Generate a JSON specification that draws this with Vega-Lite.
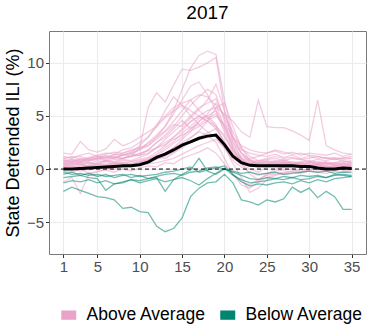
{
"$schema": "https://vega.github.io/schema/vega-lite/v6.json",
"autosize": "none",
"width": 317,
"height": 223,
"padding": {"left": 49, "top": 31, "right": 8, "bottom": 82},
"config": {"font": "Liberation Sans", "view": {"stroke": "#7a7a7a", "strokeWidth": 1}},
"title": {"text": "2017", "fontSize": 19, "fontWeight": "normal", "color": "#000000", "offset": 8, "anchor": "middle"},
"datasets": {
"above": [
{"s":1,"w":1,"v":0.8},{"s":1,"w":2,"v":0.6},{"s":1,"w":3,"v":0.9},{"s":1,"w":4,"v":0.7},{"s":1,"w":5,"v":1.0},{"s":1,"w":6,"v":1.2},{"s":1,"w":7,"v":1.0},{"s":1,"w":8,"v":1.3},{"s":1,"w":9,"v":1.5},{"s":1,"w":10,"v":1.8},{"s":1,"w":11,"v":2.5},{"s":1,"w":12,"v":3.2},{"s":1,"w":13,"v":4.0},{"s":1,"w":14,"v":5.5},{"s":1,"w":15,"v":7.5},{"s":1,"w":16,"v":9.5},{"s":1,"w":17,"v":10.7},{"s":1,"w":18,"v":11.1},{"s":1,"w":19,"v":10.8},{"s":1,"w":20,"v":6.5},{"s":1,"w":21,"v":3.0},{"s":1,"w":22,"v":1.5},{"s":1,"w":23,"v":0.8},{"s":1,"w":24,"v":0.5},{"s":1,"w":25,"v":0.7},{"s":1,"w":26,"v":0.6},{"s":1,"w":27,"v":0.8},{"s":1,"w":28,"v":0.5},{"s":1,"w":29,"v":0.6},{"s":1,"w":30,"v":0.7},{"s":1,"w":31,"v":0.5},{"s":1,"w":32,"v":0.6},{"s":1,"w":33,"v":0.4},{"s":1,"w":34,"v":0.5},{"s":1,"w":35,"v":0.6},
{"s":2,"w":1,"v":0.3},{"s":2,"w":2,"v":0.5},{"s":2,"w":3,"v":0.4},{"s":2,"w":4,"v":0.6},{"s":2,"w":5,"v":0.5},{"s":2,"w":6,"v":0.8},{"s":2,"w":7,"v":0.7},{"s":2,"w":8,"v":1.0},{"s":2,"w":9,"v":1.2},{"s":2,"w":10,"v":2.0},{"s":2,"w":11,"v":5.8},{"s":2,"w":12,"v":7.2},{"s":2,"w":13,"v":6.3},{"s":2,"w":14,"v":7.9},{"s":2,"w":15,"v":9.4},{"s":2,"w":16,"v":9.3},{"s":2,"w":17,"v":9.6},{"s":2,"w":18,"v":10.0},{"s":2,"w":19,"v":10.5},{"s":2,"w":20,"v":5.5},{"s":2,"w":21,"v":2.5},{"s":2,"w":22,"v":1.0},{"s":2,"w":23,"v":0.3},{"s":2,"w":24,"v":0.2},{"s":2,"w":25,"v":0.4},{"s":2,"w":26,"v":0.5},{"s":2,"w":27,"v":0.3},{"s":2,"w":28,"v":0.4},{"s":2,"w":29,"v":0.5},{"s":2,"w":30,"v":0.3},{"s":2,"w":31,"v":0.4},{"s":2,"w":32,"v":0.5},{"s":2,"w":33,"v":0.3},{"s":2,"w":34,"v":0.4},{"s":2,"w":35,"v":0.5},
{"s":3,"w":1,"v":0.5},{"s":3,"w":2,"v":0.4},{"s":3,"w":3,"v":0.6},{"s":3,"w":4,"v":0.5},{"s":3,"w":5,"v":0.8},{"s":3,"w":6,"v":0.7},{"s":3,"w":7,"v":0.9},{"s":3,"w":8,"v":1.0},{"s":3,"w":9,"v":1.2},{"s":3,"w":10,"v":1.4},{"s":3,"w":11,"v":1.8},{"s":3,"w":12,"v":2.5},{"s":3,"w":13,"v":3.2},{"s":3,"w":14,"v":4.0},{"s":3,"w":15,"v":5.0},{"s":3,"w":16,"v":6.0},{"s":3,"w":17,"v":6.8},{"s":3,"w":18,"v":7.5},{"s":3,"w":19,"v":7.0},{"s":3,"w":20,"v":4.5},{"s":3,"w":21,"v":2.0},{"s":3,"w":22,"v":1.0},{"s":3,"w":23,"v":0.6},{"s":3,"w":24,"v":0.5},{"s":3,"w":25,"v":0.4},{"s":3,"w":26,"v":0.6},{"s":3,"w":27,"v":0.5},{"s":3,"w":28,"v":0.4},{"s":3,"w":29,"v":0.3},{"s":3,"w":30,"v":0.5},{"s":3,"w":31,"v":0.4},{"s":3,"w":32,"v":0.3},{"s":3,"w":33,"v":0.5},{"s":3,"w":34,"v":0.4},{"s":3,"w":35,"v":0.3},
{"s":4,"w":1,"v":1.0},{"s":4,"w":2,"v":1.2},{"s":4,"w":3,"v":0.9},{"s":4,"w":4,"v":1.1},{"s":4,"w":5,"v":1.3},{"s":4,"w":6,"v":1.5},{"s":4,"w":7,"v":1.4},{"s":4,"w":8,"v":1.8},{"s":4,"w":9,"v":2.0},{"s":4,"w":10,"v":2.5},{"s":4,"w":11,"v":3.0},{"s":4,"w":12,"v":4.2},{"s":4,"w":13,"v":5.0},{"s":4,"w":14,"v":5.8},{"s":4,"w":15,"v":6.2},{"s":4,"w":16,"v":6.5},{"s":4,"w":17,"v":5.5},{"s":4,"w":18,"v":4.8},{"s":4,"w":19,"v":4.0},{"s":4,"w":20,"v":3.0},{"s":4,"w":21,"v":1.8},{"s":4,"w":22,"v":1.0},{"s":4,"w":23,"v":0.8},{"s":4,"w":24,"v":0.6},{"s":4,"w":25,"v":0.8},{"s":4,"w":26,"v":0.7},{"s":4,"w":27,"v":0.9},{"s":4,"w":28,"v":0.6},{"s":4,"w":29,"v":0.7},{"s":4,"w":30,"v":0.8},{"s":4,"w":31,"v":0.6},{"s":4,"w":32,"v":0.7},{"s":4,"w":33,"v":0.5},{"s":4,"w":34,"v":0.6},{"s":4,"w":35,"v":0.7},
{"s":5,"w":1,"v":0.2},{"s":5,"w":2,"v":0.3},{"s":5,"w":3,"v":0.1},{"s":5,"w":4,"v":0.4},{"s":5,"w":5,"v":0.3},{"s":5,"w":6,"v":0.5},{"s":5,"w":7,"v":0.4},{"s":5,"w":8,"v":0.6},{"s":5,"w":9,"v":0.5},{"s":5,"w":10,"v":0.7},{"s":5,"w":11,"v":0.9},{"s":5,"w":12,"v":1.2},{"s":5,"w":13,"v":1.5},{"s":5,"w":14,"v":2.0},{"s":5,"w":15,"v":2.8},{"s":5,"w":16,"v":3.5},{"s":5,"w":17,"v":4.5},{"s":5,"w":18,"v":5.2},{"s":5,"w":19,"v":6.2},{"s":5,"w":20,"v":5.0},{"s":5,"w":21,"v":3.5},{"s":5,"w":22,"v":2.0},{"s":5,"w":23,"v":1.2},{"s":5,"w":24,"v":0.8},{"s":5,"w":25,"v":0.7},{"s":5,"w":26,"v":0.5},{"s":5,"w":27,"v":0.6},{"s":5,"w":28,"v":0.4},{"s":5,"w":29,"v":0.5},{"s":5,"w":30,"v":0.3},{"s":5,"w":31,"v":0.4},{"s":5,"w":32,"v":0.2},{"s":5,"w":33,"v":0.3},{"s":5,"w":34,"v":0.2},{"s":5,"w":35,"v":0.3},
{"s":6,"w":1,"v":0.6},{"s":6,"w":2,"v":0.8},{"s":6,"w":3,"v":0.7},{"s":6,"w":4,"v":0.9},{"s":6,"w":5,"v":1.0},{"s":6,"w":6,"v":0.8},{"s":6,"w":7,"v":1.1},{"s":6,"w":8,"v":1.0},{"s":6,"w":9,"v":1.2},{"s":6,"w":10,"v":1.3},{"s":6,"w":11,"v":1.5},{"s":6,"w":12,"v":2.0},{"s":6,"w":13,"v":2.5},{"s":6,"w":14,"v":3.0},{"s":6,"w":15,"v":3.8},{"s":6,"w":16,"v":4.5},{"s":6,"w":17,"v":5.0},{"s":6,"w":18,"v":5.5},{"s":6,"w":19,"v":5.8},{"s":6,"w":20,"v":5.2},{"s":6,"w":21,"v":4.5},{"s":6,"w":22,"v":3.5},{"s":6,"w":23,"v":3.0},{"s":6,"w":24,"v":6.5},{"s":6,"w":25,"v":4.0},{"s":6,"w":26,"v":3.9},{"s":6,"w":27,"v":3.9},{"s":6,"w":28,"v":3.6},{"s":6,"w":29,"v":3.2},{"s":6,"w":30,"v":2.7},{"s":6,"w":31,"v":6.5},{"s":6,"w":32,"v":2.2},{"s":6,"w":33,"v":1.8},{"s":6,"w":34,"v":1.5},{"s":6,"w":35,"v":1.4},
{"s":7,"w":1,"v":1.5},{"s":7,"w":2,"v":1.4},{"s":7,"w":3,"v":2.6},{"s":7,"w":4,"v":1.8},{"s":7,"w":5,"v":1.6},{"s":7,"w":6,"v":1.9},{"s":7,"w":7,"v":2.8},{"s":7,"w":8,"v":2.2},{"s":7,"w":9,"v":2.5},{"s":7,"w":10,"v":3.0},{"s":7,"w":11,"v":3.5},{"s":7,"w":12,"v":4.0},{"s":7,"w":13,"v":4.8},{"s":7,"w":14,"v":5.5},{"s":7,"w":15,"v":6.0},{"s":7,"w":16,"v":5.5},{"s":7,"w":17,"v":5.0},{"s":7,"w":18,"v":4.5},{"s":7,"w":19,"v":3.8},{"s":7,"w":20,"v":2.5},{"s":7,"w":21,"v":1.5},{"s":7,"w":22,"v":0.8},{"s":7,"w":23,"v":0.5},{"s":7,"w":24,"v":0.8},{"s":7,"w":25,"v":1.0},{"s":7,"w":26,"v":1.2},{"s":7,"w":27,"v":1.0},{"s":7,"w":28,"v":1.1},{"s":7,"w":29,"v":0.9},{"s":7,"w":30,"v":1.0},{"s":7,"w":31,"v":1.2},{"s":7,"w":32,"v":1.0},{"s":7,"w":33,"v":0.9},{"s":7,"w":34,"v":1.1},{"s":7,"w":35,"v":1.0},
{"s":8,"w":1,"v":-1.2},{"s":8,"w":2,"v":-0.8},{"s":8,"w":3,"v":-2.3},{"s":8,"w":4,"v":-0.5},{"s":8,"w":5,"v":-0.3},{"s":8,"w":6,"v":0.0},{"s":8,"w":7,"v":0.2},{"s":8,"w":8,"v":0.1},{"s":8,"w":9,"v":0.3},{"s":8,"w":10,"v":0.5},{"s":8,"w":11,"v":0.8},{"s":8,"w":12,"v":1.0},{"s":8,"w":13,"v":1.5},{"s":8,"w":14,"v":2.0},{"s":8,"w":15,"v":2.5},{"s":8,"w":16,"v":3.0},{"s":8,"w":17,"v":3.5},{"s":8,"w":18,"v":3.2},{"s":8,"w":19,"v":2.5},{"s":8,"w":20,"v":1.0},{"s":8,"w":21,"v":-0.5},{"s":8,"w":22,"v":-1.5},{"s":8,"w":23,"v":-1.8},{"s":8,"w":24,"v":-1.2},{"s":8,"w":25,"v":-0.8},{"s":8,"w":26,"v":-0.5},{"s":8,"w":27,"v":-0.3},{"s":8,"w":28,"v":-0.2},{"s":8,"w":29,"v":0.0},{"s":8,"w":30,"v":-0.1},{"s":8,"w":31,"v":0.1},{"s":8,"w":32,"v":0.0},{"s":8,"w":33,"v":-0.2},{"s":8,"w":34,"v":0.1},{"s":8,"w":35,"v":0.0},
{"s":9,"w":1,"v":0.1},{"s":9,"w":2,"v":0.0},{"s":9,"w":3,"v":0.2},{"s":9,"w":4,"v":-0.1},{"s":9,"w":5,"v":0.1},{"s":9,"w":6,"v":0.3},{"s":9,"w":7,"v":0.2},{"s":9,"w":8,"v":0.4},{"s":9,"w":9,"v":0.3},{"s":9,"w":10,"v":0.6},{"s":9,"w":11,"v":0.9},{"s":9,"w":12,"v":1.4},{"s":9,"w":13,"v":2.0},{"s":9,"w":14,"v":2.6},{"s":9,"w":15,"v":3.4},{"s":9,"w":16,"v":4.0},{"s":9,"w":17,"v":4.8},{"s":9,"w":18,"v":5.0},{"s":9,"w":19,"v":4.2},{"s":9,"w":20,"v":2.2},{"s":9,"w":21,"v":0.5},{"s":9,"w":22,"v":-0.8},{"s":9,"w":23,"v":-2.2},{"s":9,"w":24,"v":-1.8},{"s":9,"w":25,"v":-1.0},{"s":9,"w":26,"v":-0.6},{"s":9,"w":27,"v":-0.4},{"s":9,"w":28,"v":-0.2},{"s":9,"w":29,"v":-0.3},{"s":9,"w":30,"v":-0.1},{"s":9,"w":31,"v":0.0},{"s":9,"w":32,"v":-0.2},{"s":9,"w":33,"v":0.1},{"s":9,"w":34,"v":-0.1},{"s":9,"w":35,"v":0.0},
{"s":10,"w":1,"v":0.8},{"s":10,"w":2,"v":0.9},{"s":10,"w":3,"v":0.7},{"s":10,"w":4,"v":1.0},{"s":10,"w":5,"v":1.2},{"s":10,"w":6,"v":1.1},{"s":10,"w":7,"v":1.3},{"s":10,"w":8,"v":1.5},{"s":10,"w":9,"v":1.7},{"s":10,"w":10,"v":2.0},{"s":10,"w":11,"v":2.4},{"s":10,"w":12,"v":3.0},{"s":10,"w":13,"v":3.6},{"s":10,"w":14,"v":4.5},{"s":10,"w":15,"v":5.5},{"s":10,"w":16,"v":6.5},{"s":10,"w":17,"v":7.0},{"s":10,"w":18,"v":6.8},{"s":10,"w":19,"v":6.0},{"s":10,"w":20,"v":4.0},{"s":10,"w":21,"v":2.5},{"s":10,"w":22,"v":1.5},{"s":10,"w":23,"v":1.0},{"s":10,"w":24,"v":1.2},{"s":10,"w":25,"v":1.5},{"s":10,"w":26,"v":1.8},{"s":10,"w":27,"v":1.6},{"s":10,"w":28,"v":1.4},{"s":10,"w":29,"v":1.5},{"s":10,"w":30,"v":1.3},{"s":10,"w":31,"v":1.2},{"s":10,"w":32,"v":1.0},{"s":10,"w":33,"v":1.1},{"s":10,"w":34,"v":0.9},{"s":10,"w":35,"v":1.0},
{"s":11,"w":1,"v":0.3},{"s":11,"w":2,"v":0.2},{"s":11,"w":3,"v":0.4},{"s":11,"w":4,"v":0.3},{"s":11,"w":5,"v":0.5},{"s":11,"w":6,"v":0.4},{"s":11,"w":7,"v":0.6},{"s":11,"w":8,"v":0.5},{"s":11,"w":9,"v":0.7},{"s":11,"w":10,"v":0.8},{"s":11,"w":11,"v":1.0},{"s":11,"w":12,"v":1.3},{"s":11,"w":13,"v":1.8},{"s":11,"w":14,"v":2.4},{"s":11,"w":15,"v":3.0},{"s":11,"w":16,"v":3.8},{"s":11,"w":17,"v":4.5},{"s":11,"w":18,"v":5.0},{"s":11,"w":19,"v":5.5},{"s":11,"w":20,"v":4.0},{"s":11,"w":21,"v":2.0},{"s":11,"w":22,"v":0.5},{"s":11,"w":23,"v":-0.5},{"s":11,"w":24,"v":-1.0},{"s":11,"w":25,"v":-0.5},{"s":11,"w":26,"v":0.0},{"s":11,"w":27,"v":0.2},{"s":11,"w":28,"v":0.1},{"s":11,"w":29,"v":0.3},{"s":11,"w":30,"v":0.2},{"s":11,"w":31,"v":0.1},{"s":11,"w":32,"v":0.2},{"s":11,"w":33,"v":0.0},{"s":11,"w":34,"v":0.1},{"s":11,"w":35,"v":0.2},
{"s":12,"w":1,"v":0.5},{"s":12,"w":2,"v":0.7},{"s":12,"w":3,"v":0.6},{"s":12,"w":4,"v":0.8},{"s":12,"w":5,"v":0.9},{"s":12,"w":6,"v":1.1},{"s":12,"w":7,"v":1.0},{"s":12,"w":8,"v":1.3},{"s":12,"w":9,"v":1.6},{"s":12,"w":10,"v":2.2},{"s":12,"w":11,"v":3.0},{"s":12,"w":12,"v":4.0},{"s":12,"w":13,"v":5.5},{"s":12,"w":14,"v":6.8},{"s":12,"w":15,"v":6.0},{"s":12,"w":16,"v":5.0},{"s":12,"w":17,"v":4.2},{"s":12,"w":18,"v":3.5},{"s":12,"w":19,"v":3.0},{"s":12,"w":20,"v":2.0},{"s":12,"w":21,"v":1.0},{"s":12,"w":22,"v":0.5},{"s":12,"w":23,"v":0.3},{"s":12,"w":24,"v":0.2},{"s":12,"w":25,"v":0.4},{"s":12,"w":26,"v":0.3},{"s":12,"w":27,"v":0.5},{"s":12,"w":28,"v":0.4},{"s":12,"w":29,"v":0.2},{"s":12,"w":30,"v":0.3},{"s":12,"w":31,"v":0.4},{"s":12,"w":32,"v":0.2},{"s":12,"w":33,"v":0.3},{"s":12,"w":34,"v":0.1},{"s":12,"w":35,"v":0.2},
{"s":13,"w":1,"v":0.0},{"s":13,"w":2,"v":0.1},{"s":13,"w":3,"v":-0.2},{"s":13,"w":4,"v":0.0},{"s":13,"w":5,"v":0.2},{"s":13,"w":6,"v":0.1},{"s":13,"w":7,"v":0.0},{"s":13,"w":8,"v":0.3},{"s":13,"w":9,"v":0.2},{"s":13,"w":10,"v":0.4},{"s":13,"w":11,"v":0.5},{"s":13,"w":12,"v":0.6},{"s":13,"w":13,"v":0.8},{"s":13,"w":14,"v":1.0},{"s":13,"w":15,"v":1.4},{"s":13,"w":16,"v":1.8},{"s":13,"w":17,"v":2.2},{"s":13,"w":18,"v":2.5},{"s":13,"w":19,"v":2.8},{"s":13,"w":20,"v":2.0},{"s":13,"w":21,"v":0.8},{"s":13,"w":22,"v":0.2},{"s":13,"w":23,"v":-0.3},{"s":13,"w":24,"v":-0.6},{"s":13,"w":25,"v":-0.4},{"s":13,"w":26,"v":-0.2},{"s":13,"w":27,"v":-0.1},{"s":13,"w":28,"v":0.0},{"s":13,"w":29,"v":-0.2},{"s":13,"w":30,"v":0.0},{"s":13,"w":31,"v":-0.1},{"s":13,"w":32,"v":0.0},{"s":13,"w":33,"v":0.1},{"s":13,"w":34,"v":-0.1},{"s":13,"w":35,"v":0.0},
{"s":14,"w":1,"v":1.2},{"s":14,"w":2,"v":1.0},{"s":14,"w":3,"v":1.3},{"s":14,"w":4,"v":1.5},{"s":14,"w":5,"v":1.2},{"s":14,"w":6,"v":1.4},{"s":14,"w":7,"v":1.6},{"s":14,"w":8,"v":1.5},{"s":14,"w":9,"v":1.8},{"s":14,"w":10,"v":2.0},{"s":14,"w":11,"v":2.2},{"s":14,"w":12,"v":2.8},{"s":14,"w":13,"v":3.5},{"s":14,"w":14,"v":4.2},{"s":14,"w":15,"v":4.0},{"s":14,"w":16,"v":4.8},{"s":14,"w":17,"v":5.6},{"s":14,"w":18,"v":6.5},{"s":14,"w":19,"v":8.0},{"s":14,"w":20,"v":5.5},{"s":14,"w":21,"v":3.0},{"s":14,"w":22,"v":1.8},{"s":14,"w":23,"v":1.5},{"s":14,"w":24,"v":1.3},{"s":14,"w":25,"v":1.2},{"s":14,"w":26,"v":1.4},{"s":14,"w":27,"v":1.1},{"s":14,"w":28,"v":1.3},{"s":14,"w":29,"v":1.0},{"s":14,"w":30,"v":1.2},{"s":14,"w":31,"v":1.0},{"s":14,"w":32,"v":1.1},{"s":14,"w":33,"v":0.9},{"s":14,"w":34,"v":1.0},{"s":14,"w":35,"v":1.2},
{"s":15,"w":1,"v":0.4},{"s":15,"w":2,"v":0.6},{"s":15,"w":3,"v":0.5},{"s":15,"w":4,"v":0.3},{"s":15,"w":5,"v":0.6},{"s":15,"w":6,"v":0.8},{"s":15,"w":7,"v":0.6},{"s":15,"w":8,"v":0.9},{"s":15,"w":9,"v":0.8},{"s":15,"w":10,"v":1.1},{"s":15,"w":11,"v":1.4},{"s":15,"w":12,"v":2.0},{"s":15,"w":13,"v":2.8},{"s":15,"w":14,"v":3.5},{"s":15,"w":15,"v":4.2},{"s":15,"w":16,"v":5.0},{"s":15,"w":17,"v":5.8},{"s":15,"w":18,"v":6.2},{"s":15,"w":19,"v":6.6},{"s":15,"w":20,"v":4.8},{"s":15,"w":21,"v":2.8},{"s":15,"w":22,"v":1.5},{"s":15,"w":23,"v":0.6},{"s":15,"w":24,"v":0.3},{"s":15,"w":25,"v":0.5},{"s":15,"w":26,"v":0.4},{"s":15,"w":27,"v":0.6},{"s":15,"w":28,"v":0.5},{"s":15,"w":29,"v":0.4},{"s":15,"w":30,"v":0.6},{"s":15,"w":31,"v":0.5},{"s":15,"w":32,"v":0.4},{"s":15,"w":33,"v":0.6},{"s":15,"w":34,"v":0.5},{"s":15,"w":35,"v":0.4},
{"s":16,"w":1,"v":0.2},{"s":16,"w":2,"v":0.0},{"s":16,"w":3,"v":0.3},{"s":16,"w":4,"v":0.2},{"s":16,"w":5,"v":0.1},{"s":16,"w":6,"v":0.3},{"s":16,"w":7,"v":0.4},{"s":16,"w":8,"v":0.2},{"s":16,"w":9,"v":0.5},{"s":16,"w":10,"v":0.6},{"s":16,"w":11,"v":0.7},{"s":16,"w":12,"v":0.9},{"s":16,"w":13,"v":1.2},{"s":16,"w":14,"v":1.6},{"s":16,"w":15,"v":2.2},{"s":16,"w":16,"v":2.9},{"s":16,"w":17,"v":3.6},{"s":16,"w":18,"v":4.5},{"s":16,"w":19,"v":5.8},{"s":16,"w":20,"v":6.2},{"s":16,"w":21,"v":4.0},{"s":16,"w":22,"v":2.0},{"s":16,"w":23,"v":0.8},{"s":16,"w":24,"v":0.4},{"s":16,"w":25,"v":0.3},{"s":16,"w":26,"v":0.5},{"s":16,"w":27,"v":0.2},{"s":16,"w":28,"v":0.4},{"s":16,"w":29,"v":0.3},{"s":16,"w":30,"v":0.1},{"s":16,"w":31,"v":0.2},{"s":16,"w":32,"v":0.3},{"s":16,"w":33,"v":0.1},{"s":16,"w":34,"v":0.2},{"s":16,"w":35,"v":0.3},
{"s":17,"w":1,"v":0.9},{"s":17,"w":2,"v":0.7},{"s":17,"w":3,"v":1.0},{"s":17,"w":4,"v":0.8},{"s":17,"w":5,"v":1.1},{"s":17,"w":6,"v":0.9},{"s":17,"w":7,"v":1.2},{"s":17,"w":8,"v":1.0},{"s":17,"w":9,"v":1.4},{"s":17,"w":10,"v":1.3},{"s":17,"w":11,"v":1.8},{"s":17,"w":12,"v":2.5},{"s":17,"w":13,"v":3.0},{"s":17,"w":14,"v":3.8},{"s":17,"w":15,"v":4.6},{"s":17,"w":16,"v":3.8},{"s":17,"w":17,"v":4.2},{"s":17,"w":18,"v":4.8},{"s":17,"w":19,"v":5.2},{"s":17,"w":20,"v":3.8},{"s":17,"w":21,"v":2.2},{"s":17,"w":22,"v":1.2},{"s":17,"w":23,"v":0.9},{"s":17,"w":24,"v":0.7},{"s":17,"w":25,"v":0.9},{"s":17,"w":26,"v":1.0},{"s":17,"w":27,"v":0.8},{"s":17,"w":28,"v":1.0},{"s":17,"w":29,"v":0.9},{"s":17,"w":30,"v":0.7},{"s":17,"w":31,"v":0.9},{"s":17,"w":32,"v":0.8},{"s":17,"w":33,"v":1.0},{"s":17,"w":34,"v":0.7},{"s":17,"w":35,"v":0.8},
{"s":18,"w":1,"v":0.6},{"s":18,"w":2,"v":0.5},{"s":18,"w":3,"v":0.7},{"s":18,"w":4,"v":0.6},{"s":18,"w":5,"v":0.4},{"s":18,"w":6,"v":0.7},{"s":18,"w":7,"v":0.5},{"s":18,"w":8,"v":0.8},{"s":18,"w":9,"v":0.7},{"s":18,"w":10,"v":0.9},{"s":18,"w":11,"v":1.1},{"s":18,"w":12,"v":1.6},{"s":18,"w":13,"v":2.2},{"s":18,"w":14,"v":3.0},{"s":18,"w":15,"v":3.6},{"s":18,"w":16,"v":4.4},{"s":18,"w":17,"v":5.0},{"s":18,"w":18,"v":4.5},{"s":18,"w":19,"v":4.0},{"s":18,"w":20,"v":3.2},{"s":18,"w":21,"v":1.6},{"s":18,"w":22,"v":0.9},{"s":18,"w":23,"v":0.4},{"s":18,"w":24,"v":0.5},{"s":18,"w":25,"v":0.6},{"s":18,"w":26,"v":0.4},{"s":18,"w":27,"v":0.7},{"s":18,"w":28,"v":0.5},{"s":18,"w":29,"v":0.6},{"s":18,"w":30,"v":0.4},{"s":18,"w":31,"v":0.5},{"s":18,"w":32,"v":0.6},{"s":18,"w":33,"v":0.4},{"s":18,"w":34,"v":0.3},{"s":18,"w":35,"v":0.5},
{"s":19,"w":1,"v":-0.2},{"s":19,"w":2,"v":-0.3},{"s":19,"w":3,"v":0.0},{"s":19,"w":4,"v":-0.4},{"s":19,"w":5,"v":-0.2},{"s":19,"w":6,"v":-0.1},{"s":19,"w":7,"v":-0.3},{"s":19,"w":8,"v":0.0},{"s":19,"w":9,"v":-0.2},{"s":19,"w":10,"v":0.1},{"s":19,"w":11,"v":0.3},{"s":19,"w":12,"v":0.2},{"s":19,"w":13,"v":0.6},{"s":19,"w":14,"v":0.5},{"s":19,"w":15,"v":1.0},{"s":19,"w":16,"v":1.3},{"s":19,"w":17,"v":1.6},{"s":19,"w":18,"v":2.0},{"s":19,"w":19,"v":1.5},{"s":19,"w":20,"v":0.5},{"s":19,"w":21,"v":-0.5},{"s":19,"w":22,"v":-1.2},{"s":19,"w":23,"v":-1.5},{"s":19,"w":24,"v":-1.0},{"s":19,"w":25,"v":-0.6},{"s":19,"w":26,"v":-0.4},{"s":19,"w":27,"v":-0.5},{"s":19,"w":28,"v":-0.3},{"s":19,"w":29,"v":-0.4},{"s":19,"w":30,"v":-0.2},{"s":19,"w":31,"v":-0.3},{"s":19,"w":32,"v":-0.4},{"s":19,"w":33,"v":-0.2},{"s":19,"w":34,"v":-0.3},{"s":19,"w":35,"v":-0.1},
{"s":20,"w":1,"v":0.7},{"s":20,"w":2,"v":0.9},{"s":20,"w":3,"v":0.8},{"s":20,"w":4,"v":1.0},{"s":20,"w":5,"v":1.2},{"s":20,"w":6,"v":1.0},{"s":20,"w":7,"v":1.4},{"s":20,"w":8,"v":1.3},{"s":20,"w":9,"v":1.5},{"s":20,"w":10,"v":1.8},{"s":20,"w":11,"v":2.2},{"s":20,"w":12,"v":3.0},{"s":20,"w":13,"v":4.0},{"s":20,"w":14,"v":5.2},{"s":20,"w":15,"v":6.5},{"s":20,"w":16,"v":7.8},{"s":20,"w":17,"v":8.2},{"s":20,"w":18,"v":7.0},{"s":20,"w":19,"v":5.5},{"s":20,"w":20,"v":3.5},{"s":20,"w":21,"v":1.8},{"s":20,"w":22,"v":0.8},{"s":20,"w":23,"v":0.5},{"s":20,"w":24,"v":0.6},{"s":20,"w":25,"v":0.5},{"s":20,"w":26,"v":0.8},{"s":20,"w":27,"v":0.6},{"s":20,"w":28,"v":0.7},{"s":20,"w":29,"v":0.5},{"s":20,"w":30,"v":0.6},{"s":20,"w":31,"v":0.7},{"s":20,"w":32,"v":0.5},{"s":20,"w":33,"v":0.6},{"s":20,"w":34,"v":0.8},{"s":20,"w":35,"v":0.6},
{"s":21,"w":1,"v":1.0},{"s":21,"w":2,"v":1.1},{"s":21,"w":3,"v":1.2},{"s":21,"w":4,"v":0.9},{"s":21,"w":5,"v":1.0},{"s":21,"w":6,"v":1.3},{"s":21,"w":7,"v":1.1},{"s":21,"w":8,"v":1.4},{"s":21,"w":9,"v":1.2},{"s":21,"w":10,"v":1.5},{"s":21,"w":11,"v":1.7},{"s":21,"w":12,"v":2.0},{"s":21,"w":13,"v":2.3},{"s":21,"w":14,"v":2.8},{"s":21,"w":15,"v":3.2},{"s":21,"w":16,"v":3.6},{"s":21,"w":17,"v":4.0},{"s":21,"w":18,"v":4.6},{"s":21,"w":19,"v":5.0},{"s":21,"w":20,"v":4.2},{"s":21,"w":21,"v":3.0},{"s":21,"w":22,"v":2.2},{"s":21,"w":23,"v":1.8},{"s":21,"w":24,"v":1.6},{"s":21,"w":25,"v":1.5},{"s":21,"w":26,"v":1.7},{"s":21,"w":27,"v":1.4},{"s":21,"w":28,"v":1.6},{"s":21,"w":29,"v":1.3},{"s":21,"w":30,"v":1.5},{"s":21,"w":31,"v":1.4},{"s":21,"w":32,"v":1.3},{"s":21,"w":33,"v":1.5},{"s":21,"w":34,"v":1.2},{"s":21,"w":35,"v":1.4},
{"s":22,"w":1,"v":0.4},{"s":22,"w":2,"v":0.3},{"s":22,"w":3,"v":0.5},{"s":22,"w":4,"v":0.2},{"s":22,"w":5,"v":0.4},{"s":22,"w":6,"v":0.3},{"s":22,"w":7,"v":0.5},{"s":22,"w":8,"v":0.6},{"s":22,"w":9,"v":0.4},{"s":22,"w":10,"v":0.7},{"s":22,"w":11,"v":0.8},{"s":22,"w":12,"v":1.2},{"s":22,"w":13,"v":1.0},{"s":22,"w":14,"v":1.5},{"s":22,"w":15,"v":2.0},{"s":22,"w":16,"v":2.6},{"s":22,"w":17,"v":3.0},{"s":22,"w":18,"v":3.4},{"s":22,"w":19,"v":3.8},{"s":22,"w":20,"v":2.6},{"s":22,"w":21,"v":1.2},{"s":22,"w":22,"v":0.4},{"s":22,"w":23,"v":0.0},{"s":22,"w":24,"v":-0.3},{"s":22,"w":25,"v":0.2},{"s":22,"w":26,"v":0.3},{"s":22,"w":27,"v":0.1},{"s":22,"w":28,"v":0.2},{"s":22,"w":29,"v":0.4},{"s":22,"w":30,"v":0.3},{"s":22,"w":31,"v":0.2},{"s":22,"w":32,"v":0.1},{"s":22,"w":33,"v":0.3},{"s":22,"w":34,"v":0.2},{"s":22,"w":35,"v":0.1}
],
"below": [
{"s":31,"w":1,"v":-2.1},{"s":31,"w":2,"v":-1.7},{"s":31,"w":3,"v":-2.0},{"s":31,"w":4,"v":-2.3},{"s":31,"w":5,"v":-2.6},{"s":31,"w":6,"v":-2.7},{"s":31,"w":7,"v":-2.9},{"s":31,"w":8,"v":-3.7},{"s":31,"w":9,"v":-3.6},{"s":31,"w":10,"v":-4.0},{"s":31,"w":11,"v":-4.1},{"s":31,"w":12,"v":-5.4},{"s":31,"w":13,"v":-5.9},{"s":31,"w":14,"v":-5.6},{"s":31,"w":15,"v":-4.6},{"s":31,"w":16,"v":-2.6},{"s":31,"w":17,"v":-1.8},{"s":31,"w":18,"v":-1.3},{"s":31,"w":19,"v":-1.2},{"s":31,"w":20,"v":-0.5},{"s":31,"w":21,"v":-1.3},{"s":31,"w":22,"v":-2.9},{"s":31,"w":23,"v":-3.1},{"s":31,"w":24,"v":-3.4},{"s":31,"w":25,"v":-2.9},{"s":31,"w":26,"v":-3.1},{"s":31,"w":27,"v":-2.8},{"s":31,"w":28,"v":-1.7},{"s":31,"w":29,"v":-2.2},{"s":31,"w":30,"v":-1.8},{"s":31,"w":31,"v":-2.7},{"s":31,"w":32,"v":-2.1},{"s":31,"w":33,"v":-2.6},{"s":31,"w":34,"v":-3.8},{"s":31,"w":35,"v":-3.8},
{"s":32,"w":1,"v":-0.8},{"s":32,"w":2,"v":-0.7},{"s":32,"w":3,"v":-0.6},{"s":32,"w":4,"v":-0.8},{"s":32,"w":5,"v":-0.9},{"s":32,"w":6,"v":-2.0},{"s":32,"w":7,"v":-1.4},{"s":32,"w":8,"v":-1.3},{"s":32,"w":9,"v":-1.0},{"s":32,"w":10,"v":-1.1},{"s":32,"w":11,"v":-0.9},{"s":32,"w":12,"v":-0.8},{"s":32,"w":13,"v":-2.1},{"s":32,"w":14,"v":-1.0},{"s":32,"w":15,"v":-0.5},{"s":32,"w":16,"v":-0.1},{"s":32,"w":17,"v":1.0},{"s":32,"w":18,"v":-0.2},{"s":32,"w":19,"v":-0.5},{"s":32,"w":20,"v":0.0},{"s":32,"w":21,"v":-0.3},{"s":32,"w":22,"v":-0.6},{"s":32,"w":23,"v":-0.9},{"s":32,"w":24,"v":-1.0},{"s":32,"w":25,"v":-0.8},{"s":32,"w":26,"v":-0.9},{"s":32,"w":27,"v":-0.7},{"s":32,"w":28,"v":-0.8},{"s":32,"w":29,"v":-0.6},{"s":32,"w":30,"v":-0.7},{"s":32,"w":31,"v":-0.6},{"s":32,"w":32,"v":-0.8},{"s":32,"w":33,"v":-0.5},{"s":32,"w":34,"v":-0.6},{"s":32,"w":35,"v":-0.7},
{"s":33,"w":1,"v":-0.3},{"s":33,"w":2,"v":-0.5},{"s":33,"w":3,"v":-0.4},{"s":33,"w":4,"v":-0.6},{"s":33,"w":5,"v":-0.5},{"s":33,"w":6,"v":-0.7},{"s":33,"w":7,"v":-0.6},{"s":33,"w":8,"v":-0.5},{"s":33,"w":9,"v":-0.8},{"s":33,"w":10,"v":-0.6},{"s":33,"w":11,"v":-0.9},{"s":33,"w":12,"v":-0.7},{"s":33,"w":13,"v":-0.5},{"s":33,"w":14,"v":-0.4},{"s":33,"w":15,"v":-0.6},{"s":33,"w":16,"v":-0.3},{"s":33,"w":17,"v":-0.2},{"s":33,"w":18,"v":0.1},{"s":33,"w":19,"v":0.2},{"s":33,"w":20,"v":0.0},{"s":33,"w":21,"v":-0.2},{"s":33,"w":22,"v":-0.4},{"s":33,"w":23,"v":-0.3},{"s":33,"w":24,"v":-0.5},{"s":33,"w":25,"v":-0.4},{"s":33,"w":26,"v":-0.3},{"s":33,"w":27,"v":-0.5},{"s":33,"w":28,"v":-0.4},{"s":33,"w":29,"v":-0.3},{"s":33,"w":30,"v":-0.2},{"s":33,"w":31,"v":-0.3},{"s":33,"w":32,"v":-0.2},{"s":33,"w":33,"v":-0.4},{"s":33,"w":34,"v":-0.3},{"s":33,"w":35,"v":-0.3},
{"s":34,"w":1,"v":-1.3},{"s":34,"w":2,"v":-1.1},{"s":34,"w":3,"v":-1.2},{"s":34,"w":4,"v":-1.0},{"s":34,"w":5,"v":-1.3},{"s":34,"w":6,"v":-1.1},{"s":34,"w":7,"v":-1.4},{"s":34,"w":8,"v":-1.2},{"s":34,"w":9,"v":-1.0},{"s":34,"w":10,"v":-1.3},{"s":34,"w":11,"v":-1.1},{"s":34,"w":12,"v":-0.9},{"s":34,"w":13,"v":-1.2},{"s":34,"w":14,"v":-1.0},{"s":34,"w":15,"v":-0.8},{"s":34,"w":16,"v":-1.1},{"s":34,"w":17,"v":-1.5},{"s":34,"w":18,"v":-0.9},{"s":34,"w":19,"v":-0.4},{"s":34,"w":20,"v":0.1},{"s":34,"w":21,"v":-0.6},{"s":34,"w":22,"v":-1.0},{"s":34,"w":23,"v":-1.3},{"s":34,"w":24,"v":-1.2},{"s":34,"w":25,"v":-1.1},{"s":34,"w":26,"v":-0.9},{"s":34,"w":27,"v":-1.0},{"s":34,"w":28,"v":-0.8},{"s":34,"w":29,"v":-1.0},{"s":34,"w":30,"v":-0.9},{"s":34,"w":31,"v":-0.7},{"s":34,"w":32,"v":-0.8},{"s":34,"w":33,"v":-0.6},{"s":34,"w":34,"v":-0.5},{"s":34,"w":35,"v":-0.6},
{"s":35,"w":1,"v":-0.5},{"s":35,"w":2,"v":-0.3},{"s":35,"w":3,"v":-0.6},{"s":35,"w":4,"v":-0.4},{"s":35,"w":5,"v":-0.7},{"s":35,"w":6,"v":-0.5},{"s":35,"w":7,"v":-0.8},{"s":35,"w":8,"v":-0.6},{"s":35,"w":9,"v":-0.5},{"s":35,"w":10,"v":-0.7},{"s":35,"w":11,"v":-0.6},{"s":35,"w":12,"v":-0.5},{"s":35,"w":13,"v":-0.3},{"s":35,"w":14,"v":-0.2},{"s":35,"w":15,"v":0.0},{"s":35,"w":16,"v":0.2},{"s":35,"w":17,"v":-0.3},{"s":35,"w":18,"v":-0.1},{"s":35,"w":19,"v":0.1},{"s":35,"w":20,"v":0.3},{"s":35,"w":21,"v":-0.5},{"s":35,"w":22,"v":-1.2},{"s":35,"w":23,"v":-1.6},{"s":35,"w":24,"v":-1.4},{"s":35,"w":25,"v":-1.5},{"s":35,"w":26,"v":-1.3},{"s":35,"w":27,"v":-1.2},{"s":35,"w":28,"v":-1.4},{"s":35,"w":29,"v":-1.1},{"s":35,"w":30,"v":-1.3},{"s":35,"w":31,"v":-1.0},{"s":35,"w":32,"v":-1.2},{"s":35,"w":33,"v":-0.9},{"s":35,"w":34,"v":-0.8},{"s":35,"w":35,"v":-0.7}
],
"mean": [
{"w":1,"v":0.0},{"w":2,"v":0.0},{"w":3,"v":0.05},{"w":4,"v":0.1},{"w":5,"v":0.15},{"w":6,"v":0.2},{"w":7,"v":0.25},{"w":8,"v":0.3},{"w":9,"v":0.3},{"w":10,"v":0.4},{"w":11,"v":0.65},{"w":12,"v":1.1},{"w":13,"v":1.4},{"w":14,"v":1.8},{"w":15,"v":2.25},{"w":16,"v":2.55},{"w":17,"v":2.9},{"w":18,"v":3.1},{"w":19,"v":3.2},{"w":20,"v":2.3},{"w":21,"v":1.2},{"w":22,"v":0.6},{"w":23,"v":0.35},{"w":24,"v":0.3},{"w":25,"v":0.3},{"w":26,"v":0.3},{"w":27,"v":0.3},{"w":28,"v":0.3},{"w":29,"v":0.25},{"w":30,"v":0.25},{"w":31,"v":0.1},{"w":32,"v":0.0},{"w":33,"v":0.0},{"w":34,"v":0.1},{"w":35,"v":0.05}
],
"ref": [{"v": 0}]
},
"layer": [
{
"data": {"name": "above"},
"mark": {"type": "line", "strokeWidth": 1.3, "opacity": 0.55},
"encoding": {
"x": {"field": "w", "type": "quantitative",
"scale": {"domain": [-0.7, 36.7], "nice": false, "zero": false},
"axis": {"values": [1,3,5,7.5,10,12.5,15,17.5,20,22.5,25,27.5,30,32.5,35], "labelExpr": "(datum.value == 1 || datum.value % 5 == 0) ? datum.label : ''", "title": null, "grid": true,
"gridColor": {"condition": {"test": "datum.value == 1 || datum.value % 5 == 0", "value": "#EBEBEB"}, "value": "#F5F5F5"},
"gridWidth": {"condition": {"test": "datum.value == 1 || datum.value % 5 == 0", "value": 1.1}, "value": 0.6},
"tickOpacity": {"condition": {"test": "datum.value == 1 || datum.value % 5 == 0", "value": 1}, "value": 0},
"domain": false, "tickColor": "#333333", "tickSize": 3.5, "tickWidth": 1, "labelColor": "#4d4d4d", "labelFontSize": 15, "labelPadding": 1.5, "labelFlush": false, "labelOverlap": false}},
"y": {"field": "v", "type": "quantitative",
"scale": {"domain": [-8, 13], "nice": false, "zero": false},
"axis": {"values": [-5, 0, 5, 10], "title": "State Detrended ILI (%)", "titleFontSize": 18, "titleFontWeight": "normal", "titleColor": "#000000", "titlePadding": 4, "grid": true, "gridColor": "#EBEBEB", "gridWidth": 1.1, "domain": false, "tickColor": "#333333", "tickSize": 3.5, "tickWidth": 1, "labelColor": "#4d4d4d", "labelFontSize": 15, "labelPadding": 2, "labelFlush": false}},
"detail": {"field": "s"},
"color": {"datum": "Above Average", "type": "nominal",
"scale": {"domain": ["Above Average", "Below Average"], "range": ["#E9A3C9", "#018571"]},
"legend": {"orient": "none", "legendX": 11, "legendY": 275, "direction": "horizontal", "title": null, "labelFontSize": 17.5, "labelColor": "#000000", "symbolType": "M-1,-0.62H1V0.62H-1Z", "symbolSize": 225, "symbolOpacity": 1, "symbolStrokeWidth": 0, "labelOffset": 9, "columnPadding": 13, "padding": 0,
"encode": {"symbols": {"update": {"fill": {"scale": "color", "field": "value"}, "strokeWidth": {"value": 0}, "opacity": {"value": 1}}}}}}
}
},
{
"data": {"name": "below"},
"mark": {"type": "line", "strokeWidth": 1.3, "opacity": 0.55},
"encoding": {
"x": {"field": "w", "type": "quantitative"},
"y": {"field": "v", "type": "quantitative"},
"detail": {"field": "s"},
"color": {"datum": "Below Average", "type": "nominal"}
}
},
{
"data": {"name": "ref"},
"mark": {"type": "rule", "strokeDash": [4, 3], "color": "#000000", "strokeWidth": 1},
"encoding": {"y": {"field": "v", "type": "quantitative"}}
},
{
"data": {"name": "mean"},
"mark": {"type": "line", "color": "#000000", "strokeWidth": 3},
"encoding": {
"x": {"field": "w", "type": "quantitative"},
"y": {"field": "v", "type": "quantitative"}
}
}
]
}
